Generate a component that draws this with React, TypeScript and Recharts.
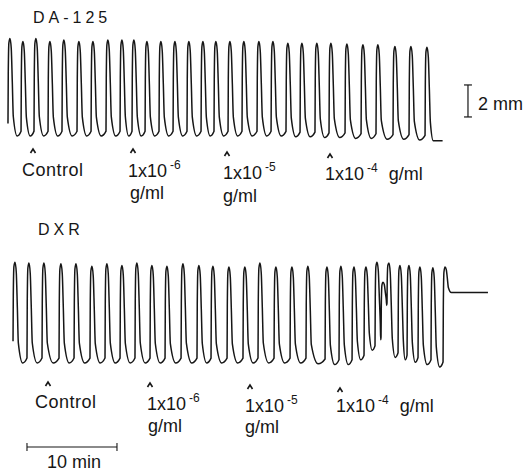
import { LineChart, Line, XAxis, YAxis, ReferenceLine } from 'recharts';

// Beat peaks. Time in min from the start of the trace,
// height in mm above the resting level.
const daPeakTimes = [
  0.33, 1.78, 3.22, 4.78, 6.33, 8.0, 9.56, 11.22, 12.78, 14.11, 15.56, 17.11, 18.67, 20.22, 21.78,
  23.22, 24.78, 26.33, 28.0, 29.56, 31.22, 32.78, 34.44, 36.0, 37.78, 39.56, 41.22, 43.11, 44.89, 46.67,
];
const daPeakMm = [
  6.1, 5.9, 6.1, 5.9, 6.0, 5.9, 5.9, 6.0, 6.0, 6.0, 5.9, 5.9, 5.9, 5.9, 5.9,
  5.9, 5.9, 5.9, 5.9, 5.9, 5.8, 5.8, 5.8, 5.8, 5.75, 5.7, 5.7, 5.6, 5.6, 5.55,
];
// resting level between beats
const daTroughMm = [
  0, 0, 0, 0, 0, 0, 0, 0, 0, 0, 0, 0, 0, 0, 0, 0, 0, 0, 0, 0,
  -0.05, -0.05, -0.1, -0.1, -0.15, -0.15, -0.2, -0.2, -0.25,
];
const daStartMm = 0.5;
const daEndMm = -0.3;
const daEndTime = 48.4;

const dxrPeakTimes = [
  0.89, 2.44, 4.11, 6.0, 7.67, 9.44, 11.11, 12.78, 14.44, 16.11, 17.78, 19.56, 21.33, 22.89, 24.67, 26.44,
  28.11, 29.89, 31.67, 33.44, 35.56, 37.11, 38.56, 39.89, 41.11, 41.78, 42.44, 43.67, 44.67, 45.89, 47.33, 48.67,
];
const dxrPeakMm = [
  6.3, 6.25, 6.25, 6.2, 6.2, 6.05, 6.2, 6.1, 6.25, 6.1, 6.05, 6.2, 6.1, 6.05, 6.0, 6.0,
  6.25, 6.0, 6.0, 6.05, 6.0, 6.05, 6.0, 6.0, 6.3, 5.05, 6.25, 6.1, 6.1, 6.0, 5.95, 6.0,
];
const dxrTroughMm = [
  0, 0, 0, 0, 0, 0, 0, 0, 0, 0, 0, 0, 0, 0, 0, 0, 0, 0, 0,
  -0.05, -0.1, -0.1, 0.2, 0.8, 1.45, 3.6, 0.35, 0.2, 0.05, -0.1, -0.25,
];
const dxrStartMm = 1.1;
const dxrEndMm = 4.4;
const dxrEndTime = 53.44;

type Pt = { t: number; v: number };

// one twitch: steep rise, rounded top, quick fall back to the resting level
function buildTrace(
  times: number[],
  peaks: number[],
  troughs: number[],
  start: number,
  endLevel: number,
  endTime: number,
): Pt[] {
  const pts: Pt[] = [];
  times.forEach((tp, i) => {
    const a = peaks[i];
    const b0 = i === 0 ? start : troughs[i - 1];
    const last = i === times.length - 1;
    const b1 = last ? endLevel : troughs[i];
    pts.push({ t: tp - 0.22, v: b0 + 0.05 * (a - b0) });
    pts.push({ t: tp - 0.19, v: b0 + 0.6 * (a - b0) });
    pts.push({ t: tp - 0.12, v: b0 + 0.95 * (a - b0) });
    pts.push({ t: tp, v: a });
    pts.push({ t: tp + 0.14, v: b1 + 0.9 * (a - b1) });
    pts.push({ t: tp + 0.26, v: b1 + 0.55 * (a - b1) });
    pts.push({ t: tp + 0.37, v: b1 + 0.2 * (a - b1) });
    if (!last) {
      const nextFoot = times[i + 1] - 0.22;
      pts.push({ t: (tp + 0.37 + nextFoot) / 2, v: b1 });
    } else {
      pts.push({ t: tp + 0.7, v: endLevel });
    }
  });
  pts.push({ t: endTime, v: endLevel });
  return pts;
}

const daTrace = buildTrace(daPeakTimes, daPeakMm, daTroughMm, daStartMm, daEndMm, daEndTime);
const dxrTrace = buildTrace(dxrPeakTimes, dxrPeakMm, dxrTroughMm, dxrStartMm, dxrEndMm, dxrEndTime);

const X_DOMAIN: [number, number] = [-7 / 9, 519 / 9];
const INK = '#161616';
const FONT = '"Liberation Sans", Arial, sans-serif';

// small arrowhead marking when a dose was added
function Caret({ x, top }: { x: number; top: number }) {
  return (
    <path
      d={`M${x - 2.5},${top + 4} L${x},${top} L${x + 2.5},${top + 4}`}
      fill="none"
      stroke={INK}
      strokeWidth={1.6}
    />
  );
}

function Conc({ x, y, exp, unit }: { x: number; y: number; exp: string; unit?: boolean }) {
  return (
    <text x={x} y={y} fontSize={18} fill={INK}>
      1x10
      <tspan fontSize={12} dx={3} dy={-8}>
        {exp}
      </tspan>
      {unit && (
        <tspan fontSize={18} dx={11} dy={8}>
          g/ml
        </tspan>
      )}
    </text>
  );
}

export default function App() {
  return (
    <div style={{ position: 'absolute', left: 0, top: 0, width: 526, height: 473, background: '#fff' }}>
      <div style={{ position: 'absolute', left: 0, top: 0 }}>
        <LineChart width={526} height={236} margin={{ top: 0, right: 0, bottom: 0, left: 0 }}>
          <XAxis dataKey="t" type="number" domain={X_DOMAIN} hide allowDataOverflow />
          <YAxis type="number" domain={[-6.25, 8.5]} hide allowDataOverflow />
          <Line
            data={daTrace}
            dataKey="v"
            type="monotone"
            stroke={INK}
            strokeWidth={1.5}
            dot={false}
            activeDot={false}
            isAnimationActive={false}
          />
          {/* 2 mm calibration bar */}
          <ReferenceLine segment={[{ x: 51.22, y: 1.19 }, { x: 51.22, y: 3.19 }]} stroke={INK} strokeWidth={1.2} ifOverflow="visible" />
          <ReferenceLine segment={[{ x: 50.78, y: 1.19 }, { x: 51.66, y: 1.19 }]} stroke={INK} strokeWidth={1.2} ifOverflow="visible" />
          <ReferenceLine segment={[{ x: 50.78, y: 3.19 }, { x: 51.66, y: 3.19 }]} stroke={INK} strokeWidth={1.2} ifOverflow="visible" />
        </LineChart>
      </div>
      <div style={{ position: 'absolute', left: 0, top: 236 }}>
        <LineChart width={526} height={237} margin={{ top: 0, right: 0, bottom: 0, left: 0 }}>
          <XAxis dataKey="t" type="number" domain={X_DOMAIN} hide allowDataOverflow />
          <YAxis type="number" domain={[-6.875, 7.9375]} hide allowDataOverflow />
          <Line
            data={dxrTrace}
            dataKey="v"
            type="monotone"
            stroke={INK}
            strokeWidth={1.5}
            dot={false}
            activeDot={false}
            isAnimationActive={false}
          />
          {/* 10 min time bar */}
          <ReferenceLine segment={[{ x: 2.22, y: -5.25 }, { x: 12.22, y: -5.25 }]} stroke={INK} strokeWidth={1.1} ifOverflow="visible" />
          <ReferenceLine segment={[{ x: 2.22, y: -5.0 }, { x: 2.22, y: -5.5 }]} stroke={INK} strokeWidth={1.1} ifOverflow="visible" />
          <ReferenceLine segment={[{ x: 12.22, y: -5.0 }, { x: 12.22, y: -5.5 }]} stroke={INK} strokeWidth={1.1} ifOverflow="visible" />
        </LineChart>
      </div>
      <svg
        width={526}
        height={473}
        style={{ position: 'absolute', left: 0, top: 0, pointerEvents: 'none', fontFamily: FONT }}
      >
        <text x={33} y={23} fontSize={16} letterSpacing={4} fill={INK}>DA-125</text>
        <text x={478} y={110} fontSize={18} fill={INK}>2 mm</text>

        <Caret x={33} top={149} />
        <text x={22} y={176} fontSize={18} letterSpacing={0.5} fill={INK}>Control</text>
        <Caret x={133} top={149} />
        <Conc x={128} y={177} exp="-6" />
        <text x={130} y={199} fontSize={18} fill={INK}>g/ml</text>
        <Caret x={227} top={152} />
        <Conc x={223} y={179} exp="-5" />
        <text x={223} y={202} fontSize={18} fill={INK}>g/ml</text>
        <Caret x={330} top={154} />
        <Conc x={325} y={180} exp="-4" unit />

        <text x={38} y={235} fontSize={16} letterSpacing={4} fill={INK}>DXR</text>

        <Caret x={48} top={382} />
        <text x={35} y={408} fontSize={18} letterSpacing={0.5} fill={INK}>Control</text>
        <Caret x={150} top={383} />
        <Conc x={147} y={410} exp="-6" />
        <text x={148} y={432} fontSize={18} fill={INK}>g/ml</text>
        <Caret x={250} top={385} />
        <Conc x={245} y={412} exp="-5" />
        <text x={245} y={433} fontSize={18} fill={INK}>g/ml</text>
        <Caret x={340} top={388} />
        <Conc x={336} y={412} exp="-4" unit />

        <text x={47} y={468} fontSize={18} fill={INK}>10 min</text>
      </svg>
    </div>
  );
}
